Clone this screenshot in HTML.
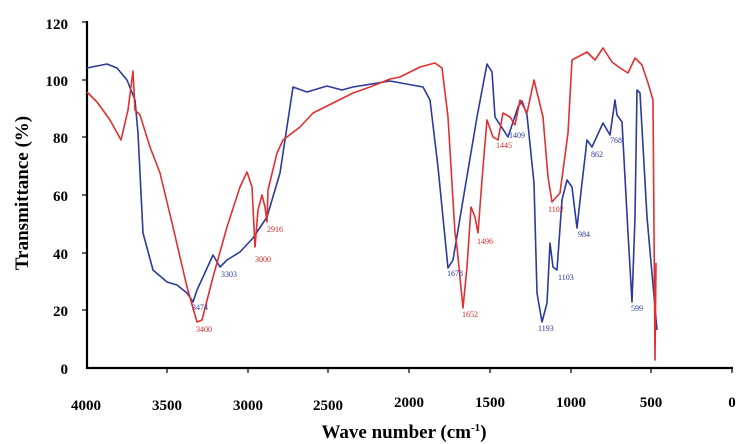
<!DOCTYPE html>
<html><head><meta charset="utf-8"><style>
html,body{margin:0;padding:0;background:#fff;}
svg{display:block;font-family:"Liberation Serif",serif;}
</style></head><body>
<svg width="745" height="444" viewBox="0 0 745 444" xmlns="http://www.w3.org/2000/svg">
<rect width="745" height="444" fill="#fff"/>
<g stroke="#000" stroke-width="2.2" fill="none">
<line x1="87" y1="21" x2="87" y2="369"/>
<line x1="86" y1="368" x2="733" y2="368"/>
</g>
<g stroke="#000" stroke-width="1.2">
<line x1="82" y1="22" x2="87" y2="22"/><line x1="82" y1="80" x2="87" y2="80"/><line x1="82" y1="137" x2="87" y2="137"/><line x1="82" y1="195" x2="87" y2="195"/><line x1="82" y1="253" x2="87" y2="253"/><line x1="82" y1="310" x2="87" y2="310"/>
<line x1="167" y1="368" x2="167" y2="373"/><line x1="248" y1="368" x2="248" y2="373"/><line x1="328" y1="368" x2="328" y2="373"/><line x1="409" y1="368" x2="409" y2="373"/><line x1="490" y1="368" x2="490" y2="373"/><line x1="571" y1="368" x2="571" y2="373"/><line x1="651" y1="368" x2="651" y2="373"/><line x1="732" y1="368" x2="732" y2="373"/>
</g>
<g font-size="15" font-weight="bold" text-anchor="end">
<text x="68" y="29">120</text><text x="68" y="86">100</text><text x="68" y="143">80</text><text x="68" y="201">60</text><text x="68" y="259">40</text><text x="68" y="316">20</text><text x="68" y="374">0</text>
</g>
<g font-size="15" font-weight="bold" text-anchor="middle">
<text x="86" y="410">4000</text><text x="167" y="410">3500</text><text x="248" y="410">3000</text><text x="328" y="410">2500</text><text x="409" y="407">2000</text><text x="490" y="407">1500</text><text x="571" y="407">1000</text><text x="651" y="407">500</text><text x="732" y="407">0</text>
</g>
<text x="404" y="438" font-size="19" font-weight="bold" text-anchor="middle">Wave number (cm<tspan font-size="11" dy="-7">-1</tspan><tspan dy="7">)</tspan></text>
<text transform="translate(28,193) rotate(-90)" font-size="19" font-weight="bold" text-anchor="middle">Transmittance (%)</text>
<polyline fill="none" stroke="#2b3a9c" stroke-width="1.6" stroke-linejoin="round" points="87,68 107,64 117,68 127,80 135,100 138,133 143,233 153,270 167,282 177,285 187,293 193,302 197,290 203,277 213,255 220,267 227,260 240,252 253,238 267,217 280,173 293,87 307,92 327,86 342,90 353,87 390,81 423,87 430,100 438,167 448,268 453,260 463,200 477,117 487,64 492,72 495,117 508,137 518,107 522,101 527,115 534,183 537,293 542,322 547,303 550,243 553,267 557,270 562,200 567,180 572,187 577,228 582,183 587,140 592,147 603,123 610,135 615,100 617,115 622,122 628,233 632,302 635,217 637,90 640,93 647,217 657,330"/>
<polyline fill="none" stroke="#e03030" stroke-width="1.6" stroke-linejoin="round" points="87,92 97,102 110,120 121,140 128,110 133,71 135,110 140,115 150,147 160,173 173,227 187,287 197,322 202,320 213,277 227,227 240,187 247,172 252,187 255,247 258,210 262,195 265,207 267,222 268,190 277,153 283,140 300,127 313,113 333,103 353,93 370,87 390,79 400,77 420,67 435,63 442,68 448,117 455,233 457,247 463,308 467,267 471,207 475,217 478,233 483,167 487,120 493,137 498,140 503,113 510,117 515,125 520,100 527,113 534,80 543,117 548,177 552,202 560,193 568,133 572,60 587,52 595,60 603,48 612,62 620,68 628,73 635,58 642,65 648,83 653,100 655,360 656,263"/>
<g font-size="8" fill="#2b3a9c">
<text x="192" y="310">3474</text><text x="221" y="277">3303</text><text x="447" y="276">1678</text><text x="509" y="138">1409</text><text x="538" y="331">1193</text><text x="558" y="280">1103</text><text x="578" y="237">984</text><text x="591" y="157">862</text><text x="610" y="143">768</text><text x="631" y="311">599</text>
</g>
<g font-size="8" fill="#d02828">
<text x="196" y="332">3400</text><text x="255" y="262">3000</text><text x="267" y="232">2916</text><text x="462" y="317">1652</text><text x="477" y="244">1496</text><text x="496" y="148">1445</text><text x="548" y="212">1102</text>
</g>
</svg>
</body></html>
